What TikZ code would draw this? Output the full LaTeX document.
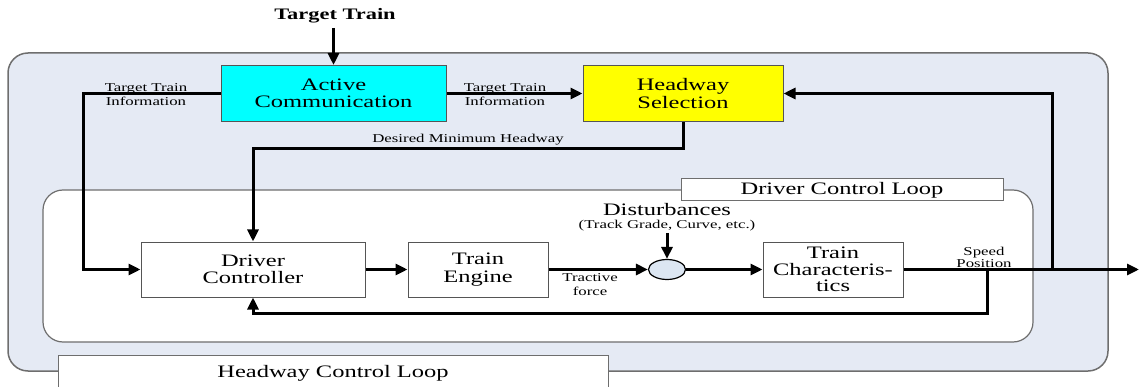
\documentclass[tikz,border=0pt]{standalone}
\usepackage{fontspec}
\setmainfont{Liberation Serif}[FakeStretch=1.4]
\usetikzlibrary{arrows.meta,shapes.geometric}
\definecolor{outerfill}{HTML}{E5EAF4}
\definecolor{cirfill}{HTML}{DCE6F2}
\definecolor{bordergray}{HTML}{555555}
\definecolor{loopgray}{HTML}{6E6E6E}
\definecolor{accyan}{HTML}{00FFFF}
\definecolor{hsyellow}{HTML}{FFFF00}
\tikzset{
  blk/.style={draw=bordergray, line width=1pt, fill=white, inner sep=0pt, align=center,
              font=\fontsize{17.5}{17.5}\selectfont},
  small/.style={font=\fontsize{12}{14}\selectfont, align=center, inner sep=1pt},
  conn/.style={line width=3pt, draw=black},
  arr/.style={conn, -{Triangle[length=12pt,width=11pt]}},
  looplabel/.style={draw=loopgray, line width=1pt, fill=white, font=\fontsize{17.5}{18}\selectfont}
}
\begin{document}
\begin{tikzpicture}[x=1pt,y=-1pt]
\useasboundingbox (0,0) rectangle (1139,387);
% outer headway loop
\draw[draw=loopgray, line width=1.5pt, fill=outerfill, rounded corners=20pt] (8,53) rectangle (1108,371);
% inner driver loop
\draw[draw=loopgray, line width=1.2pt, fill=white, rounded corners=20pt] (43,190) rectangle (1033,342);
\node[looplabel, minimum width=322pt, minimum height=22pt, inner sep=0pt] (dcl) at (842,190) {Driver Control Loop};
\node[looplabel, anchor=north west, minimum width=550pt, minimum height=40pt, inner sep=0pt] (hclbox) at (58,355) {};
\node[font=\fontsize{17.5}{18}\selectfont, anchor=base] (hcl) at (333,377) {Headway Control Loop};

% blocks
\node[blk, fill=accyan, minimum width=225pt, minimum height=56pt] (ac) at (333.5,93.5) {Active\\Communication};
\node[blk, fill=hsyellow, minimum width=200pt, minimum height=56pt] (hs) at (683,93.5) {Headway\\Selection};
\node[blk, minimum width=224pt, minimum height=55pt] (dc) at (253,269.5) {Driver\\Controller};
\node[blk, minimum width=140pt, minimum height=55pt] (te) at (478,269.5) {Train\\Engine};
\node[blk, minimum width=140pt, minimum height=55pt, font=\fontsize{17.5}{16.5}\selectfont] (tc) at (833,269.5) {Train\\Characteris-\\tics};
\node[draw=black, line width=1.2pt, fill=cirfill, ellipse, minimum width=37pt, minimum height=20pt, inner sep=0pt] (cir) at (667,269.5) {};

% texts
\node[font=\bfseries\fontsize{16}{16}\selectfont, anchor=base] (tt) at (335,20) {Target Train};
\node[small] (lblL) at (146,95) {Target Train\\Information};
\node[small] (lblR) at (505,95) {Target Train\\Information};
\node[small, anchor=base] (dmh) at (468,143) {Desired Minimum Headway};
\node[font=\fontsize{17.5}{18}\selectfont, anchor=base, inner sep=1pt] (dist) at (667,216) {Disturbances};
\node[small, anchor=base] (distsub) at (667,229) {(Track Grade, Curve, etc.)};
\node[small] (tf) at (590,285) {Tractive\\force};
\node[small, font=\fontsize{12}{12}\selectfont] (sp) at (984,257) {Speed\\Position};

% coordinates
\coordinate (ttEnd) at (333.5,28);
\coordinate (lt) at (83,93.5);
\coordinate (dm) at (253,149);
\coordinate (out) at (1139,269.5);
\coordinate (fb1) at (987,269.5);
\coordinate (fb2) at (987,313);
\coordinate (up1) at (1052,269.5);

% connectors
\draw[arr] (ttEnd) -- (ac.north);
\draw[arr] (ac.east) -- (hs.west);
\draw[arr] (ac.west) -- (lt) |- (dc.west);
\draw[arr] (hs.south) |- (dm) -- (dc.north);
\draw[arr] (dc.east) -- (te.west);
\draw[arr] (te.east) -- (cir.west);
\draw[arr] (distsub.south -| cir.north) -- (cir.north);
\draw[arr] (cir.east) -- (tc.west);
\draw[arr] (tc.east) -- (out);
\draw[arr] (fb1) -- (fb2) -| (dc.south);
\draw[arr] (up1) |- (hs.east);
\end{tikzpicture}
\end{document}
